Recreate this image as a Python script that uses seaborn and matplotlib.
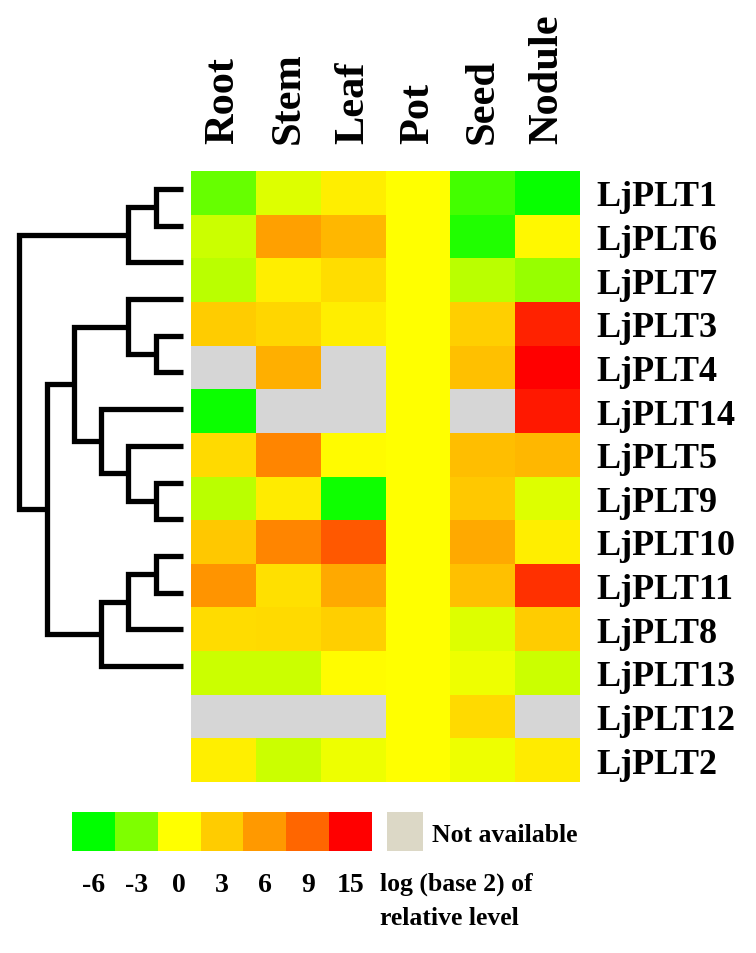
import numpy as np
import pandas as pd
import matplotlib
matplotlib.use('Agg')
import matplotlib.pyplot as plt
from matplotlib.colors import LinearSegmentedColormap
import seaborn as sns

nan = np.nan

# tissues (columns) and genes (rows, in dendrogram order)
tissues = ['Root', 'Stem', 'Leaf', 'Pot', 'Seed', 'Nodule']
genes = ['LjPLT1', 'LjPLT6', 'LjPLT7', 'LjPLT3', 'LjPLT4', 'LjPLT14', 'LjPLT5',
         'LjPLT9', 'LjPLT10', 'LjPLT11', 'LjPLT8', 'LjPLT13', 'LjPLT12', 'LjPLT2']

# log2 relative expression (nan = not available)
root = [-3.6, -1.2, -1.6, 3.0, nan, -5.7, 2.2, -1.6, 3.2, 6.3, 2.1, -1.2, nan, 0.9]
stem = [-0.8, 5.6, 1.0, 2.4, 4.7, nan, 7.2, 1.2, 7.2, 1.8, 2.2, -1.2, nan, -1.2]
leaf = [1.0, 4.2, 2.0, 1.0, nan, nan, 0.3, -5.6, 9.8, 5.0, 2.8, 0.2, nan, -0.4]
pot = [0, 0, 0, 0, 0, 0, 0, 0, 0, 0, 0, 0, 0, 0]
seed = [-4.4, -5.2, -1.6, 2.8, 3.7, nan, 3.8, 3.2, 5.0, 3.7, -0.8, -0.4, 2.2, -0.4]
nodule = [-5.8, 0.4, -2.4, 13.0, 15.0, 13.6, 4.2, -0.8, 1.0, 12.2, 3.0, -1.2, nan, 1.2]

# dendrogram merges: (child a, child b, height); leaves are 0..13, new nodes 14..
merges = [(0, 1, 1), (14, 2, 2), (4, 5, 1), (3, 16, 2), (8, 9, 1), (7, 18, 2),
          (6, 19, 3), (17, 20, 4), (10, 11, 1), (22, 12, 2), (23, 13, 3),
          (21, 24, 5), (15, 25, 6)]

# legend scale
legend_values = [-6, -3, 0, 3, 6, 9, 15]

df = pd.DataFrame({'Root': root, 'Stem': stem, 'Leaf': leaf, 'Pot': pot,
                   'Seed': seed, 'Nodule': nodule}, index=genes)[tissues]

plt.rcParams['font.family'] = ['Liberation Serif', 'DejaVu Serif']
plt.rcParams['font.weight'] = 'bold'

cmap = LinearSegmentedColormap.from_list(
    'gyr', [(0, '#00FF00'), (6 / 21, '#FFFF00'), (1, '#FF0000')])

W, H = 756, 954
fig = plt.figure(figsize=(W / 100, H / 100), dpi=100)


def px(x0, y0, x1, y1):
    return [x0 / W, 1 - y1 / H, (x1 - x0) / W, (y1 - y0) / H]


# Heatmap
ax = fig.add_axes(px(191, 172, 580, 783))
ax.set_facecolor('#D6D6D6')
sns.heatmap(df, ax=ax, cmap=cmap, vmin=-6, vmax=15, cbar=False,
            xticklabels=True, yticklabels=True)
ax.xaxis.tick_top()
ax.set_xticklabels(tissues, rotation=90, fontsize=30.5, fontweight='bold', va='bottom')
ax.set_yticklabels(genes, rotation=0, fontsize=26, fontweight='bold')
ax.yaxis.tick_right()
ax.tick_params(axis='x', length=0, pad=20)
ax.tick_params(axis='y', length=0, pad=12)
ax.set_xlabel('')
ax.set_ylabel('')

# Dendrogram
axd = fig.add_axes(px(10, 171.6, 183, 685.4))
pos = {i: (float(i), 0.0) for i in range(len(genes))}
for k, (a, b, h) in enumerate(merges):
    ya, ha = pos[a]
    yb, hb = pos[b]
    axd.plot([ha, h, h, hb], [ya, ya, yb, yb], color='black', lw=3.8,
             solid_joinstyle='miter', solid_capstyle='butt', clip_on=False)
    pos[len(genes) + k] = ((ya + yb) / 2, h)
axd.set_ylim(len(genes) - 0.5, -0.5)
axd.set_xlim(6.34, 0)
axd.axis('off')

# Colour legend
axl = fig.add_axes(px(72, 813, 372, 852))
sns.heatmap(pd.DataFrame([legend_values], columns=legend_values), ax=axl,
            cmap=cmap, vmin=-6, vmax=15, cbar=False, yticklabels=False)
axl.set_xticklabels([str(v) for v in legend_values], rotation=0,
                    fontsize=20, fontweight='bold')
axl.tick_params(axis='x', length=0, pad=15)
axl.set_xlabel('')

axn = fig.add_axes(px(387, 813, 423, 852))
axn.set_facecolor('#DCD8C6')
axn.set_xticks([])
axn.set_yticks([])
for s in axn.spines.values():
    s.set_visible(False)

fig.text(432 / W, 1 - 836 / H, 'Not available', fontsize=18.5, fontweight='bold',
         va='center', ha='left')
fig.text(380 / W, 1 - 884 / H, 'log (base 2) of', fontsize=18.5, fontweight='bold',
         va='center', ha='left')
fig.text(380 / W, 1 - 919 / H, 'relative level', fontsize=18.5, fontweight='bold',
         va='center', ha='left')

fig.savefig('out.png', dpi=100)
